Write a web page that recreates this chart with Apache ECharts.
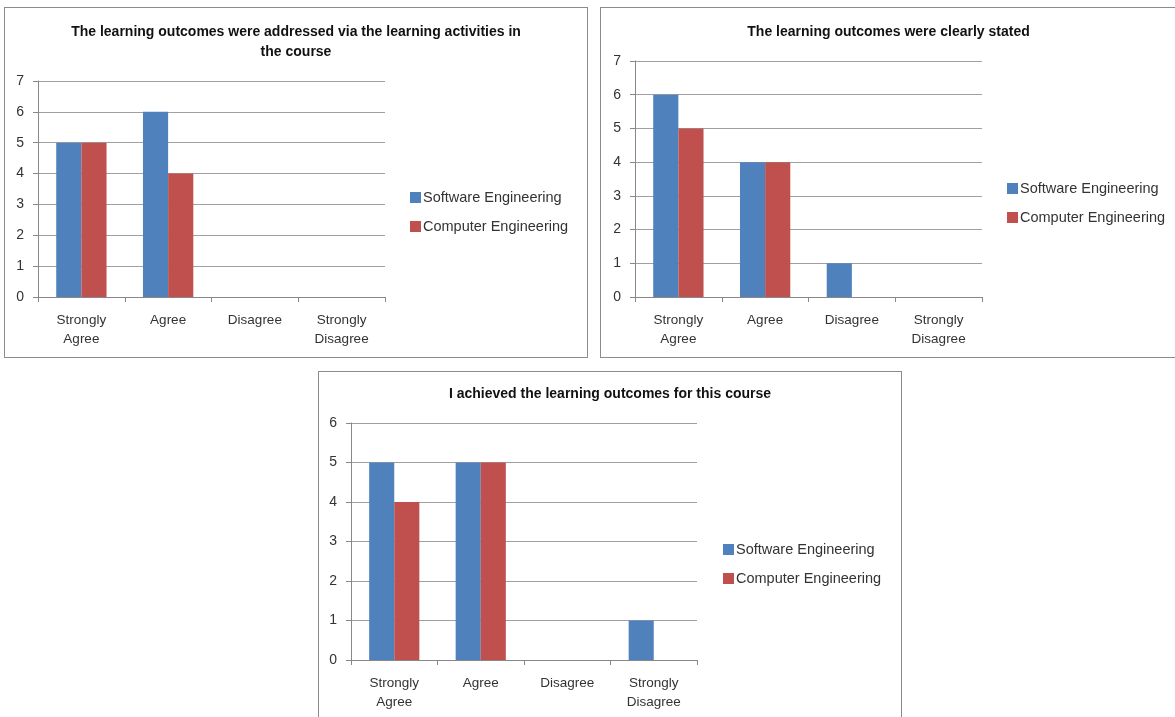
<!DOCTYPE html>
<html>
<head>
<meta charset="utf-8">
<script src="https://cdn.jsdelivr.net/npm/echarts@6/dist/echarts.min.js"></script>
<style>
  body { margin: 0; background: #fff; width: 1175px; height: 717px; overflow: hidden; position: relative; }
  .box { position: absolute; border: 1.5px solid #8c8c8c; background: #fff; box-sizing: border-box; }
</style>
</head>
<body>
<div id="c1" class="box" style="left:4px;top:7px;width:584px;height:351px;"></div>
<div id="c2" class="box" style="left:600px;top:7px;width:577px;height:351px;"></div>
<div id="c3" class="box" style="left:318px;top:371px;width:584px;height:352px;"></div>
<script>
var categories = ['Strongly\nAgree', 'Agree', 'Disagree', 'Strongly\nDisagree'];
var seriesNames = ['Software Engineering', 'Computer Engineering'];

var title1 = 'The learning outcomes were addressed via the learning activities in\nthe course';
var software1 = [5, 6, 0, 0];
var computer1 = [5, 4, 0, 0];

var title2 = 'The learning outcomes were clearly stated';
var software2 = [6, 4, 1, 0];
var computer2 = [5, 4, 0, 0];

var title3 = 'I achieved the learning outcomes for this course';
var software3 = [5, 5, 0, 1];
var computer3 = [4, 5, 0, 0];

var font = 'Liberation Sans';

function barChart(id, title, sw, ce, yMax, grid, legendPos, titleTop) {
    var myChart = echarts.init(document.getElementById(id));
    var option = {
        animation: false,
        color: ['#4F81BD', '#C0504D'],
        textStyle: { fontFamily: font },
        title: {
            text: title,
            left: 'center',
            top: titleTop,
            textStyle: { fontSize: 14, fontWeight: 'bold', color: '#111', lineHeight: 20, fontFamily: font }
        },
        legend: {
            orient: 'vertical',
            left: legendPos[0],
            top: legendPos[1],
            itemWidth: 11,
            itemHeight: 11,
            itemGap: 14,
            icon: 'rect',
            textStyle: { fontSize: 14.5, color: '#333', fontFamily: font, padding: [0, 0, 0, -3] },
            data: seriesNames
        },
        grid: grid,
        xAxis: {
            type: 'category',
            data: categories,
            axisLine: { lineStyle: { color: '#888' } },
            axisTick: { show: true, length: 5, lineStyle: { color: '#888' } },
            axisLabel: { fontSize: 13.5, color: '#333', lineHeight: 19, margin: 14, fontFamily: font }
        },
        yAxis: {
            type: 'value',
            min: 0,
            max: yMax,
            interval: 1,
            axisLine: { show: true, lineStyle: { color: '#888' } },
            axisTick: { show: true, length: 5, lineStyle: { color: '#888' } },
            axisLabel: { fontSize: 14, color: '#333', margin: 14, fontFamily: font },
            splitLine: { lineStyle: { color: '#a0a0a0' } }
        },
        series: [
            { name: seriesNames[0], type: 'bar', data: sw, barGap: '0%', barCategoryGap: '42%' },
            { name: seriesNames[1], type: 'bar', data: ce, barGap: '0%', barCategoryGap: '42%' }
        ]
    };
    option && myChart.setOption(option);
}

barChart('c1', title1, software1, computer1, 7, { left: 33, right: 202, top: 73, bottom: 60 }, [400, 177], 9);
barChart('c2', title2, software2, computer2, 7, { left: 34, right: 194, top: 53, bottom: 60 }, [401, 168], 9);
barChart('c3', title3, software3, computer3, 6, { left: 32, right: 204, top: 51, bottom: 62 }, [399, 165], 7);
</script>
</body>
</html>
